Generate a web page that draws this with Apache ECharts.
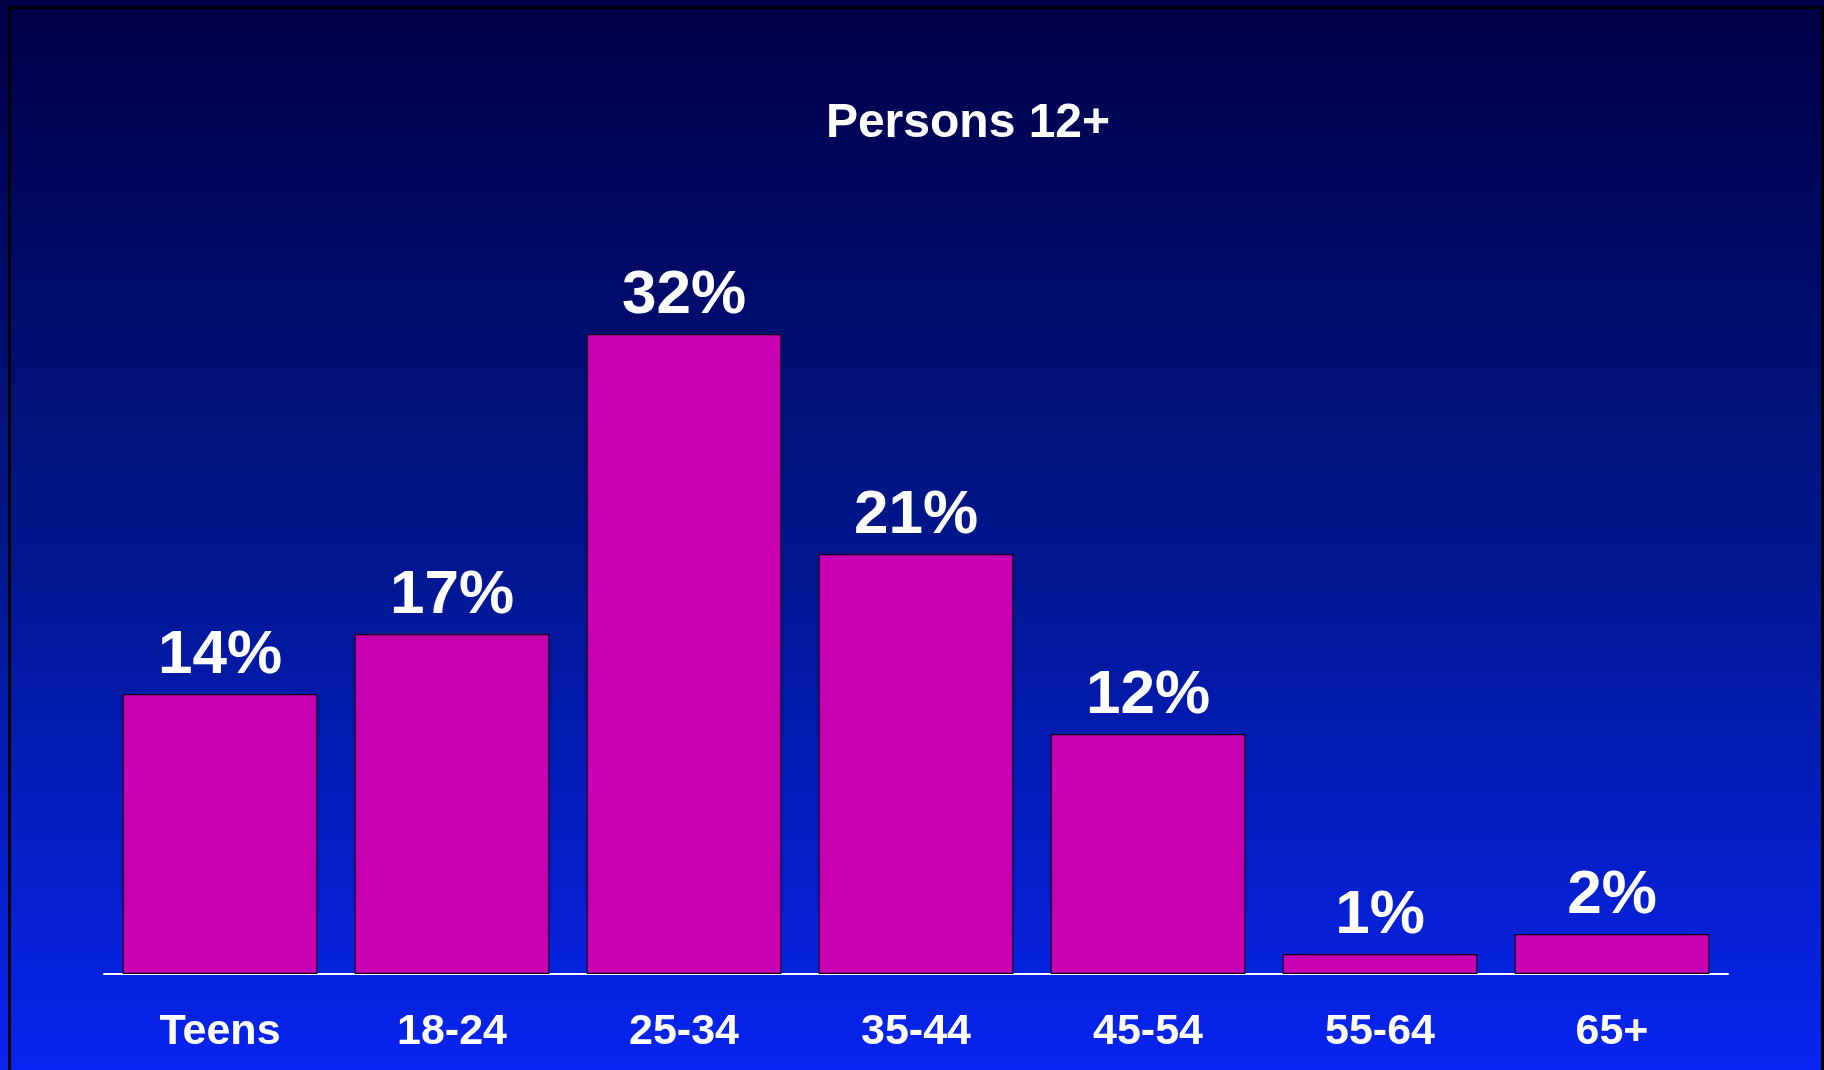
<!DOCTYPE html>
<html>
<head>
<meta charset="utf-8">
<style>
  html, body { margin: 0; padding: 0; background: #000046; }
  #chart { width: 1824px; height: 1070px; }
</style>
<script src="https://cdn.jsdelivr.net/npm/echarts@6/dist/echarts.min.js"></script>
</head>
<body>
<div id="chart"></div>
<script>
// Age breakdown of Persons 12+
const categories = ['Teens', '18-24', '25-34', '35-44', '45-54', '55-64', '65+'];
const shares = [14, 17, 32, 21, 12, 1, 2];
const chartTitle = 'Persons 12+';

const fontFamily = '"Liberation Sans", Arial, Helvetica, sans-serif';

const chart = echarts.init(document.getElementById('chart'), null, { renderer: 'canvas' });

chart.setOption({
  animation: false,
  backgroundColor: new echarts.graphic.LinearGradient(0, 0, 0, 1, [
    { offset: 0, color: '#000046' },
    { offset: 0.5, color: '#00168a' },
    { offset: 1, color: '#0824f0' }
  ]),
  title: {
    text: chartTitle,
    left: 963,
    top: 95,
    textAlign: 'center',
    textStyle: {
      color: '#ffffff',
      fontFamily: fontFamily,
      fontWeight: 'bold',
      fontSize: 48
    }
  },
  grid: { left: 104, right: 96, top: 274, bottom: 96 },
  xAxis: {
    type: 'category',
    data: categories,
    axisLine: { show: true, lineStyle: { color: '#ffffff', width: 2 } },
    axisTick: { show: false },
    axisLabel: {
      color: '#ffffff',
      fontFamily: fontFamily,
      fontWeight: 'bold',
      fontSize: 43,
      margin: 37
    }
  },
  yAxis: {
    type: 'value',
    min: 0,
    max: 35,
    show: false,
    splitLine: { show: false }
  },
  series: [{
    type: 'bar',
    data: shares,
    barCategoryGap: '16%',
    itemStyle: {
      color: '#c800b0',
      borderColor: '#10001a',
      borderWidth: 1.2
    },
    label: {
      show: true,
      position: 'top',
      distance: 7,
      formatter: '{c}%',
      color: '#ffffff',
      fontFamily: fontFamily,
      fontWeight: 'bold',
      fontSize: 62
    }
  }],
  graphic: [{
    type: 'rect',
    shape: { x: 9.5, y: 7.5, width: 1813, height: 1100 },
    style: { fill: 'none', stroke: '#000000', lineWidth: 3 },
    silent: true,
    z: 100
  }]
});
</script>
</body>
</html>
